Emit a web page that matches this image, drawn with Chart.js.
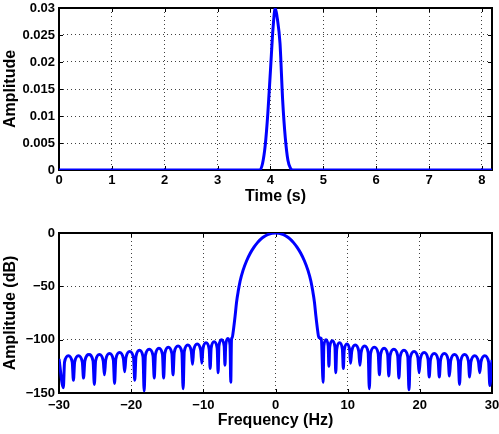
<!DOCTYPE html>
<html>
<head>
<meta charset="utf-8">
<script src="https://cdn.jsdelivr.net/npm/chart.js@4/dist/chart.umd.min.js"></script>
<style>
  body { margin: 0; background: #fff; }
  #wrap { position: relative; width: 499px; height: 434px; }
  canvas { position: absolute; left: 0; }
</style>
</head>
<body>
<div id="wrap">
  <canvas id="timeChart" width="499" height="217" style="top:0px"></canvas>
  <canvas id="freqChart" width="499" height="217" style="top:217px"></canvas>
</div>
<script>
// time domain pulse (s, amplitude)
var timeSec = [0, 3.80, 3.85, 3.90, 3.95, 4.00, 4.05, 4.09, 4.13, 4.18, 4.23, 4.28, 4.33, 4.38, 4.42, 8.19];
var timeAmp = [0, 0, 0.0012, 0.0045, 0.0105, 0.0185, 0.0265, 0.03, 0.028, 0.0235, 0.013, 0.006, 0.0018, 0.0003, 0, 0];
var timeTicksX = [0, 1, 2, 3, 4, 5, 6, 7, 8];
var timeTicksY = [0, 0.005, 0.01, 0.015, 0.02, 0.025, 0.03];
var timeLabelsY = ["0", "0.005", "0.01", "0.015", "0.02", "0.025", "0.03"];

// spectrum (Hz, dB) - nulls, lobe shoulders and peaks
var freqHz = [
  -30, -29.4,
  -29.23, -28.7, -28.17, -28.0,
  -27.83, -27.3, -26.77, -26.6,
  -26.42, -25.85, -25.28, -25.1,
  -24.93, -24.4, -23.87, -23.7,
  -23.53, -23.0, -22.47, -22.3,
  -22.13, -21.6, -21.07, -20.9,
  -20.73, -20.2, -19.67, -19.5,
  -19.34, -18.85, -18.36, -18.2,
  -18.03, -17.5, -16.97, -16.8,
  -16.64, -16.15, -15.66, -15.5,
  -15.34, -14.85, -14.36, -14.2,
  -14.03, -13.5, -12.97, -12.8,
  -12.64, -12.15, -11.66, -11.5,
  -11.34, -10.85, -10.36, -10.2,
  -10.06, -9.63, -9.19, -9.05,
  -8.92, -8.5, -8.08, -7.95,
  -7.84, -7.48, -7.11, -7.0,
  -6.9, -6.6, -6.3, -6.2,
  -6.1, -6.0, -5.85, -5.6, -5.4, -5.15, -4.9, -4.5, -4.0, -3.5, -3.0, -2.5, -2.0, -1.5, -1.0, -0.5,
  0,
  0.5, 1.0, 1.5, 2.0, 2.5, 3.0, 3.5, 4.0, 4.5, 4.9, 5.15, 5.4, 5.6, 5.85, 6.0, 6.35, 6.6,
  6.7, 7.0, 7.3, 7.4,
  7.51, 7.88, 8.24, 8.35,
  8.48, 8.88, 9.27, 9.4,
  9.52, 9.9, 10.28, 10.4,
  10.56, 11.05, 11.54, 11.7,
  11.86, 12.35, 12.84, 13.0,
  13.17, 13.7, 14.23, 14.4,
  14.56, 15.05, 15.54, 15.7,
  15.87, 16.4, 16.93, 17.1,
  17.27, 17.8, 18.33, 18.5,
  18.67, 19.2, 19.73, 19.9,
  20.07, 20.6, 21.13, 21.3,
  21.47, 22.0, 22.53, 22.7,
  22.87, 23.4, 23.93, 24.1,
  24.27, 24.8, 25.33, 25.5,
  25.67, 26.2, 26.73, 26.9,
  27.07, 27.6, 28.13, 28.3,
  28.47, 29.0, 29.53, 29.7,
  30
];
var freqDb = [
  -118, -145,
  -121, -115, -121, -138,
  -121, -115, -121, -136,
  -120, -114, -120, -142,
  -120, -114, -120, -133,
  -119, -113, -119, -141,
  -118, -112, -118, -130,
  -117, -111, -117, -138,
  -116, -110, -116, -148,
  -115, -109, -115, -136,
  -114, -108, -114, -136,
  -113, -107, -113, -133,
  -112, -106, -112, -146,
  -111, -105, -111, -123,
  -110, -104, -110, -122,
  -109, -103, -109, -127,
  -108, -102, -108, -131,
  -106, -100, -106, -124,
  -105, -99, -105, -140,
  -100, -98, -92, -78, -65, -54, -45, -35, -26, -19, -13.5, -9, -5.5, -3, -1.3, -0.3,
  0,
  -0.3, -1.3, -3, -5.5, -9, -13.5, -19, -26, -35, -45, -54, -65, -78, -92, -98, -99, -140,
  -106, -100, -106, -125,
  -107, -101, -107, -131,
  -109, -103, -109, -127,
  -110, -104, -110, -122,
  -111, -105, -111, -124,
  -112, -106, -112, -146,
  -113, -107, -113, -133,
  -114, -108, -114, -134,
  -115, -109, -115, -136,
  -116, -110, -116, -147,
  -117, -111, -117, -131,
  -118, -112, -118, -135,
  -119, -113, -119, -135,
  -119, -113, -119, -134,
  -120, -114, -120, -142,
  -120, -114, -120, -135,
  -121, -115, -121, -131,
  -121, -115, -121, -143,
  -119
];
var freqTicksX = [-30, -20, -10, 0, 10, 20, 30];
var freqTicksY = [-150, -100, -50, 0];

var FONT = "'Liberation Sans', Arial, Helvetica, sans-serif";

// box round the plot area plus inward tick marks, like matlab
var boxPlugin = {
  id: "box",
  beforeDatasetsDraw: function (chart) {
    var a = chart.chartArea;
    var ctx = chart.ctx;
    var sx = chart.scales.x;
    var sy = chart.scales.y;
    ctx.save();
    ctx.strokeStyle = "#000";
    ctx.lineWidth = 1;
    ctx.beginPath();
    sx.ticks.forEach(function (t) {
      var p = Math.round(sx.getPixelForValue(t.value)) + 0.5;
      ctx.moveTo(p, a.bottom); ctx.lineTo(p, a.bottom - 4);
      ctx.moveTo(p, a.top); ctx.lineTo(p, a.top + 4);
    });
    sy.ticks.forEach(function (t) {
      var p = Math.round(sy.getPixelForValue(t.value)) + 0.5;
      ctx.moveTo(a.left, p); ctx.lineTo(a.left + 4, p);
      ctx.moveTo(a.right, p); ctx.lineTo(a.right - 4, p);
    });
    ctx.stroke();
    ctx.lineWidth = 2;
    ctx.strokeRect(a.left, a.top, a.right - a.left, a.bottom - a.top);
    ctx.restore();
  }
};

function minus(v) {
  return String(v).replace("-", "\u2212");
}

function makeChart(id, xs, ys, cfg) {
  var pts = [];
  for (var i = 0; i < xs.length; i++) {
    pts.push({ x: xs[i], y: ys[i] });
  }

  var tickFont = { family: FONT, size: 13, weight: "bold" };
  var titleFont = { family: FONT, size: 16, weight: "bold" };

  return new Chart(document.getElementById(id), {
    type: "line",
    data: {
      datasets: [{
        data: pts,
        borderColor: "#0000ff",
        borderWidth: 3,
        pointRadius: 0,
        cubicInterpolationMode: "monotone",
        fill: false
      }]
    },
    options: {
      responsive: false,
      animation: false,
      devicePixelRatio: 1,
      layout: { padding: { top: cfg.padTop, right: 7, left: 0, bottom: 0 } },
      plugins: { legend: { display: false }, tooltip: { enabled: false } },
      scales: {
        x: {
          type: "linear",
          min: cfg.xMin,
          max: cfg.xMax,
          afterBuildTicks: function (s) {
            s.ticks = cfg.xTicks.map(function (v) { return { value: v }; });
          },
          afterFit: function (s) {
            s.height = cfg.xAxisH;
            s.paddingLeft = 0;
            s.paddingRight = 0;
          },
          grid: { color: "rgba(0,0,0,0.75)", lineWidth: 1, drawTicks: false },
          border: { display: false, dash: [1, 3] },
          ticks: {
            color: "#000", font: tickFont, padding: cfg.xLabelPad,
            maxRotation: 0, autoSkip: false,
            callback: function (v) { return minus(v); }
          },
          title: {
            display: true, text: cfg.xTitle, color: "#000", font: titleFont,
            padding: { top: 0, bottom: cfg.xTitlePad }
          }
        },
        y: {
          type: "linear",
          min: cfg.yMin,
          max: cfg.yMax,
          afterBuildTicks: function (s) {
            s.ticks = cfg.yTicks.map(function (v) { return { value: v }; });
          },
          afterFit: function (s) {
            s.width = 59;
            s.paddingTop = 0;
            s.paddingBottom = 0;
          },
          grid: { color: "rgba(0,0,0,0.75)", lineWidth: 1, drawTicks: false },
          border: { display: false, dash: [1, 3] },
          ticks: {
            color: "#000", font: tickFont, padding: 4, autoSkip: false,
            callback: function (v, i) { return cfg.yLabels ? cfg.yLabels[i] : minus(v); }
          },
          title: {
            display: true, text: cfg.yTitle, color: "#000", font: titleFont,
            padding: { top: 1, bottom: 0 }
          }
        }
      }
    },
    plugins: [boxPlugin]
  });
}

makeChart("timeChart", timeSec, timeAmp, {
  padTop: 8, xAxisH: 47, xLabelPad: 3, xTitlePad: 11,
  xMin: 0, xMax: 8.19, xTicks: timeTicksX, xTitle: "Time (s)",
  yMin: 0, yMax: 0.03, yTicks: timeTicksY, yLabels: timeLabelsY, yTitle: "Amplitude"
});

makeChart("freqChart", freqHz, freqDb, {
  padTop: 16, xAxisH: 41, xLabelPad: 5, xTitlePad: 4,
  xMin: -30, xMax: 30, xTicks: freqTicksX, xTitle: "Frequency (Hz)",
  yMin: -150, yMax: 0, yTicks: freqTicksY, yLabels: null, yTitle: "Amplitude (dB)"
});
</script>
</body>
</html>
